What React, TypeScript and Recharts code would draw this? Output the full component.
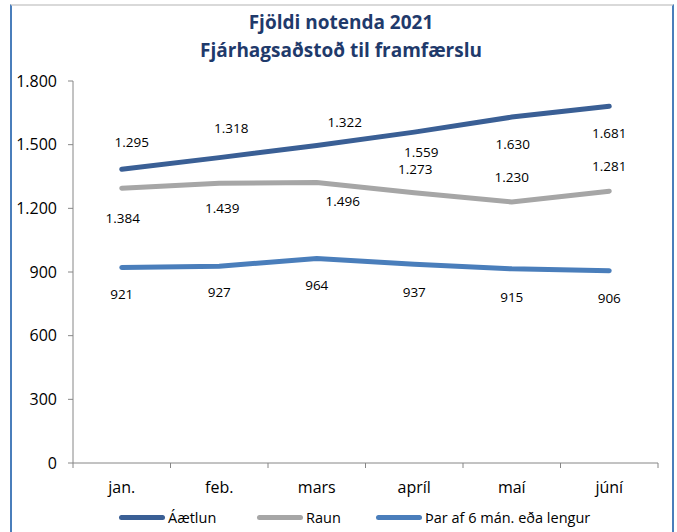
import React from 'react';
import { LineChart, Line, XAxis, YAxis, LabelList } from 'recharts';

const months = ['jan.', 'feb.', 'mars', 'apríl', 'maí', 'júní'];
const aaetlun = [1384, 1439, 1496, 1559, 1630, 1681];
const raun = [1295, 1318, 1322, 1273, 1230, 1281];
const sexMan = [921, 927, 964, 937, 915, 906];
const yTicks = [0, 300, 600, 900, 1200, 1500, 1800];

const seriesNames = ['Áætlun', 'Raun', 'Þar af 6 mán. eða lengur'];
const colors = ['#3A5F95', '#A6A6A6', '#4A7EBB'];

const data = months.map((m, i) => ({
  name: m,
  aaetlun: aaetlun[i],
  raun: raun[i],
  sexMan: sexMan[i],
}));

const fmt = (v: number) => String(v).replace(/\B(?=(\d{3})+(?!\d))/g, '.');

const FONT = '"Open Sans", sans-serif';
const HALF_BAND = 48.75;
const legendLeft = [119, 257, 376];

// label nudges as in the original sheet (labels were moved by hand there)
const shiftA = [[1, 49], [3, 50], [26, 55], [7, 20], [1, 27], [0, 27]];
const shiftR = [[10, -46], [12, -55], [28, -60], [1, -24], [0, -25], [0, -25]];
const shiftS = [[0, 26], [0, 26], [0, 27], [0, 28], [0, 28], [0, 27]];

const makeLabel = (shift: number[][]) => (props: any) => {
  const { x, y, value, index } = props;
  const [dx, dy] = shift[index] || [0, 0];
  return (
    <text
      x={x + dx}
      y={y + dy}
      textAnchor="middle"
      dominantBaseline="central"
      fontSize={13.5}
      fontFamily={FONT}
      fill="#000"
    >
      {fmt(value)}
    </text>
  );
};

const MonthTick = (props: any) => {
  const { x, y, payload, index } = props;
  return (
    <g>
      <line x1={x - HALF_BAND} y1={y} x2={x - HALF_BAND} y2={y + 5} stroke="#868686" />
      {index === months.length - 1 && (
        <line x1={x + HALF_BAND} y1={y} x2={x + HALF_BAND} y2={y + 5} stroke="#868686" />
      )}
      <text x={x} y={y + 24} dominantBaseline="central" textAnchor="middle" fontSize={16} fontFamily={FONT} fill="#000">
        {payload.value}
      </text>
    </g>
  );
};

export default function App() {
  return (
    <div style={{ position: 'absolute', left: 0, top: 0, width: 677, height: 532, background: '#fff', overflow: 'hidden' }}>
      <div
        style={{
          position: 'absolute',
          left: 10,
          top: 4,
          width: 660,
          height: 560,
          borderLeft: '2px solid #4A7EBB',
          borderRight: '2px solid #4A7EBB',
          borderTop: '2px solid #D9D9D9',
        }}
      />
      <div
        style={{
          position: 'absolute',
          left: 0,
          top: 8,
          width: 682,
          textAlign: 'center',
          fontFamily: FONT,
          fontWeight: 700,
          fontSize: 19,
          lineHeight: '28px',
          color: '#1F3A6B',
        }}
      >
        <div>Fjöldi notenda 2021</div>
        <div>Fjárhagsaðstoð til framfærslu</div>
      </div>
      <div style={{ position: 'absolute', left: 0, top: 0 }}>
        <LineChart width={677} height={532} data={data} margin={{ top: 81, right: 19, bottom: 39, left: 13 }}>
          <XAxis
            dataKey="name"
            padding={{ left: HALF_BAND, right: HALF_BAND }}
            axisLine={{ stroke: '#868686' }}
            tickLine={false}
            tickSize={0}
            tickMargin={0}
            height={30}
            interval={0}
            tick={<MonthTick />}
          />
          <YAxis
            domain={[0, 1800]}
            ticks={yTicks}
            width={60}
            axisLine={{ stroke: '#868686' }}
            tickLine={{ stroke: '#868686' }}
            tickSize={5}
            tickMargin={11}
            tickFormatter={fmt}
            tick={{ fill: '#000', fontSize: 16, fontFamily: FONT }}
          />
          <Line dataKey="aaetlun" stroke={colors[0]} strokeWidth={5} strokeLinecap="round" dot={false} isAnimationActive={false}>
            <LabelList dataKey="aaetlun" content={makeLabel(shiftA)} />
          </Line>
          <Line dataKey="raun" stroke={colors[1]} strokeWidth={5} strokeLinecap="round" dot={false} isAnimationActive={false}>
            <LabelList dataKey="raun" content={makeLabel(shiftR)} />
          </Line>
          <Line dataKey="sexMan" stroke={colors[2]} strokeWidth={5} strokeLinecap="round" dot={false} isAnimationActive={false}>
            <LabelList dataKey="sexMan" content={makeLabel(shiftS)} />
          </Line>
        </LineChart>
      </div>
      {seriesNames.map((n, i) => (
        <div
          key={n}
          style={{
            position: 'absolute',
            left: legendLeft[i],
            top: 506,
            height: 22,
            display: 'flex',
            alignItems: 'center',
            whiteSpace: 'nowrap',
            fontFamily: FONT,
            fontSize: 14.5,
            color: '#000',
          }}
        >
          <span style={{ display: 'inline-block', width: 46, height: 5, borderRadius: 3, background: colors[i], marginRight: 3 }} />
          <span>{n}</span>
        </div>
      ))}
    </div>
  );
}
